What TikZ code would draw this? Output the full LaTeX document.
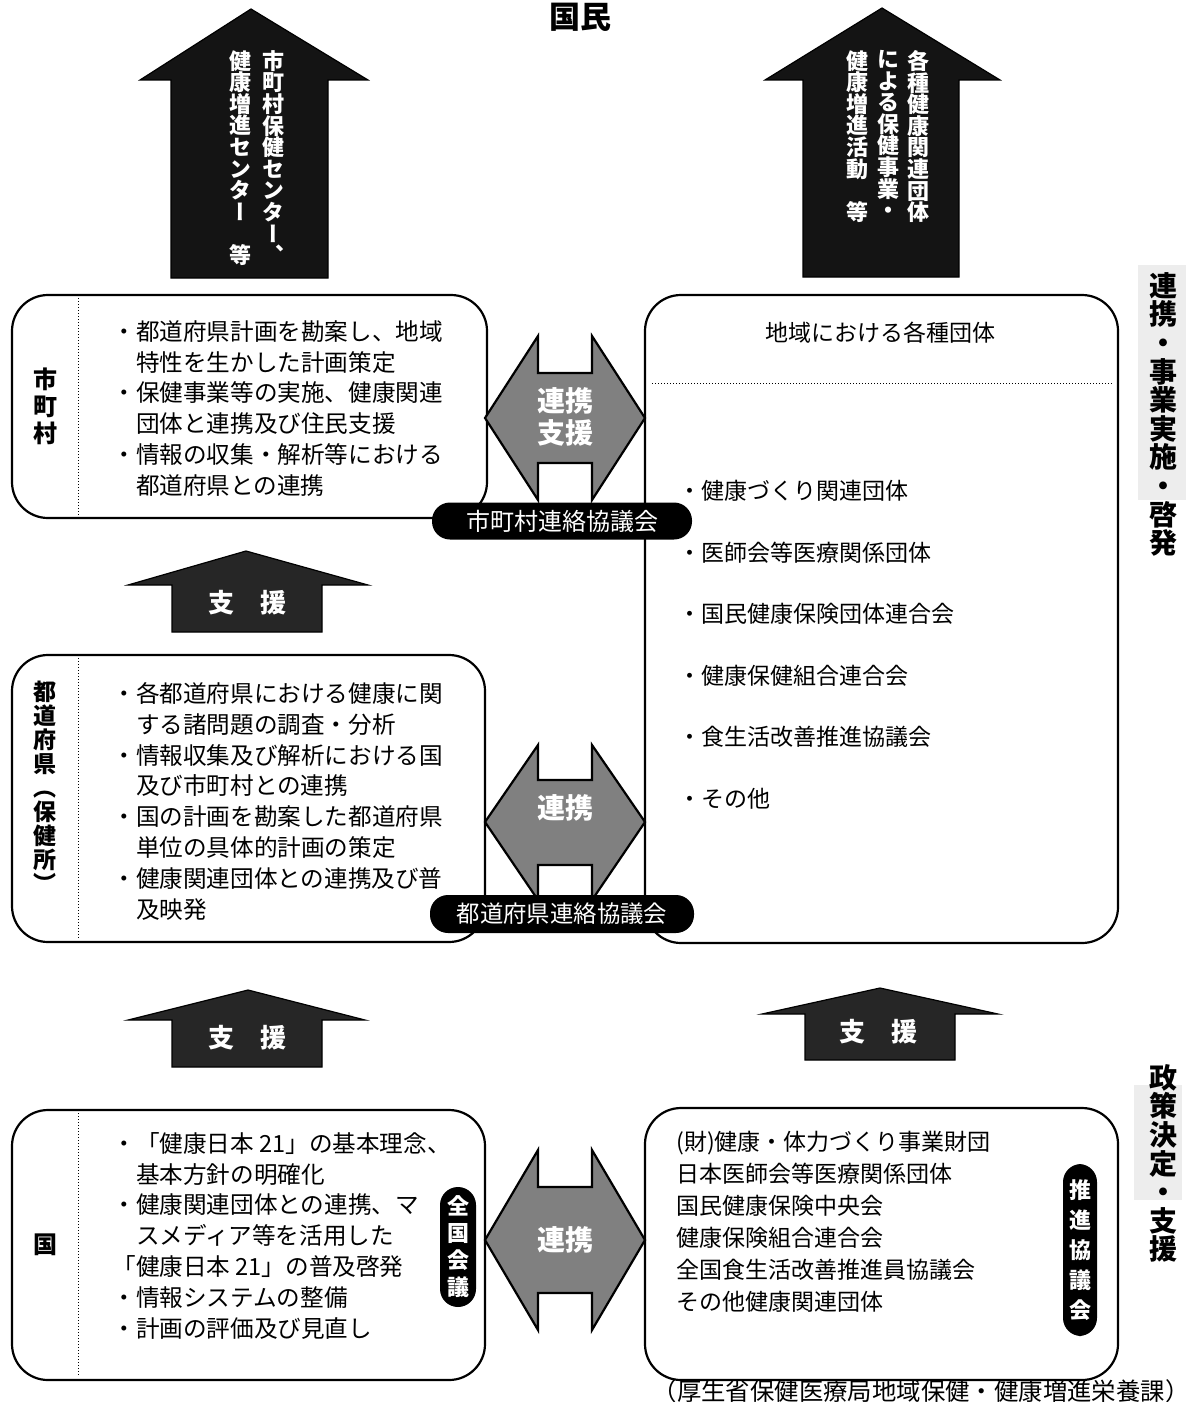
\documentclass[tikz,border=0pt]{standalone}
\usepackage{fontspec}
\setmainfont{Noto Sans CJK JP}
\newfontfamily\cjkv{Noto Sans CJK JP}[RawFeature=+vert]
\lineskiplimit=-100pt
\tikzset{
  box/.style={draw, line width=1.1pt, rounded corners=18pt},
  divider/.style={densely dotted, line width=0.5pt},
  body/.style={anchor=north west, inner sep=0, align=left, font=\fontsize{11.8}{15.4}\selectfont},
  darrow/.style={draw, line width=1.1pt, fill=black!50},
  bigarrow/.style={draw, line width=0.6pt, fill=black!92},
  smallarrow/.style={draw, line width=0.6pt, fill=black!85},
  pill/.style={fill=black, rounded corners=9pt},
  wlabel/.style={text=white, inner sep=0, font=\bfseries\fontsize{14}{16}\selectfont},
  vcol/.style={align=center, inner sep=0, anchor=north, text=white, font=\cjkv\bfseries\fontsize{11}{10.8}\selectfont},
  vlab/.style={align=center, inner sep=0, font=\cjkv\bfseries\fontsize{12}{#1}\selectfont},
  band/.style={align=center, inner sep=0, anchor=north, font=\cjkv\bfseries\fontsize{14}{14.3}\selectfont},
}
\begin{document}
\begin{tikzpicture}[x=0.5pt,y=-0.5pt]
\useasboundingbox (0,0) rectangle (1190,1402);

% title
\node[inner sep=0, font=\bfseries\fontsize{15.5}{18}\selectfont] (kokumin) at (580,17) {国民};

% big upward arrows
\draw[bigarrow] (171,278) -- (171,80) -- (140,80) -- (251,9) -- (368,80) -- (328,80) -- (328,278) -- cycle;
\node[vcol] (la1) at (273,50) {市\\町\\村\\保\\健\\セ\\ン\\タ\\ー\\、};
\node[vcol] (la2) at (240,50) {健\\康\\増\\進\\セ\\ン\\タ\\ー\\　\\等};
\draw[bigarrow] (803,277) -- (803,80) -- (765,80) -- (882,8) -- (1000,80) -- (959,80) -- (959,277) -- cycle;
\node[vcol] (ra1) at (918,50) {各\\種\\健\\康\\関\\連\\団\\体};
\node[vcol] (ra2) at (888,50) {に\\よ\\る\\保\\健\\事\\業\\・};
\node[vcol] (ra3) at (857,50) {健\\康\\増\\進\\活\\動\\　\\等};

% right side bands
\fill[gray!14] (1138,265) rectangle (1186,500);
\node[band] (band1) at (1163,272) {連\\携\\・\\事\\業\\実\\施\\・\\啓\\発};
\fill[gray!14] (1134,1085) rectangle (1182,1200);
\node[band] (band2) at (1163,1064) {政\\策\\決\\定\\・\\支\\援};

% boxes
\draw[box] (12,295) rectangle (487,518);
\draw[divider] (78,298) -- (78,515);
\node[vlab=13.5pt] (l1) at (45,406) {市\\町\\村};
\node[body] (t1) at (112,320) {・都道府県計画を勘案し、地域\\\hspace*{1em}特性を生かした計画策定\\・保健事業等の実施、健康関連\\\hspace*{1em}団体と連携及び住民支援\\・情報の収集・解析等における\\\hspace*{1em}都道府県との連携};

\draw[box] (645,295) rectangle (1118,943);
\node[inner sep=0, font=\fontsize{11.5}{14}\selectfont] (rt) at (880,333) {地域における各種団体};
\draw[divider] (652,383) -- (1112,383);
\node[body, font=\fontsize{11.5}{30.75}\selectfont] (items) at (678,480) {・健康づくり関連団体\\・医師会等医療関係団体\\・国民健康保険団体連合会\\・健康保健組合連合会\\・食生活改善推進協議会\\・その他};

\draw[box] (12,655) rectangle (485,942);
\draw[divider] (78,658) -- (78,939);
\node[vlab=12pt, font=\cjkv\bfseries\fontsize{11.5}{12}\selectfont] (l2) at (45,787) {都\\道\\府\\県\\（\\保\\健\\所\\）};
\node[body] (t2) at (112,682) {・各都道府県における健康に関\\\hspace*{1em}する諸問題の調査・分析\\・情報収集及び解析における国\\\hspace*{1em}及び市町村との連携\\・国の計画を勘案した都道府県\\\hspace*{1em}単位の具体的計画の策定\\・健康関連団体との連携及び普\\\hspace*{1em}及映発};

\draw[box] (12,1110) rectangle (485,1380);
\draw[divider] (78,1113) -- (78,1377);
\node[vlab=13pt] (l3) at (45,1245) {国};
\node[body] (t3) at (112,1132) {・「健康日本 21」の基本理念、\\\hspace*{1em}基本方針の明確化\\・健康関連団体との連携、マ\\\hspace*{1em}スメディア等を活用した\\「健康日本 21」の普及啓発\\・情報システムの整備\\・計画の評価及び見直し};

\draw[box] (645,1108) rectangle (1118,1380);
\node[body, font=\fontsize{11.5}{16}\selectfont] (t4) at (676,1131) {(財)健康・体力づくり事業財団\\日本医師会等医療関係団体\\国民健康保険中央会\\健康保険組合連合会\\全国食生活改善推進員協議会\\その他健康関連団体};

% double arrows
\draw[darrow] (485,418) -- (538,336) -- (538,373) -- (592,373) -- (592,336) -- (645,418) -- (592,500) -- (592,463) -- (538,463) -- (538,500) -- cycle;
\node[wlabel, align=center, font=\bfseries\fontsize{14}{16}\selectfont] (da1) at (565,417) {連携\\支援};
\draw[darrow] (485,822) -- (538,745) -- (538,780) -- (592,780) -- (592,745) -- (645,822) -- (592,900) -- (592,865) -- (538,865) -- (538,900) -- cycle;
\node[wlabel] (da2) at (565,808) {連携};
\draw[darrow] (485,1240) -- (538,1150) -- (538,1187) -- (592,1187) -- (592,1150) -- (645,1240) -- (592,1330) -- (592,1293) -- (538,1293) -- (538,1330) -- cycle;
\node[wlabel] (da3) at (565,1240) {連携};

% small support arrows
\draw[smallarrow] (172,632) -- (172,585) -- (128,585) -- (246,551) -- (368,585) -- (322,585) -- (322,632) -- cycle;
\node[wlabel, font=\bfseries\fontsize{13}{15}\selectfont] (s1) at (247,603) {支\hspace{1em}援};
\draw[smallarrow] (172,1067) -- (172,1020) -- (128,1020) -- (248,990) -- (365,1020) -- (322,1020) -- (322,1067) -- cycle;
\node[wlabel, font=\bfseries\fontsize{13}{15}\selectfont] (s2) at (247,1038) {支\hspace{1em}援};
\draw[smallarrow] (805,1060) -- (805,1014) -- (762,1014) -- (880,988) -- (998,1014) -- (955,1014) -- (955,1060) -- cycle;
\node[wlabel, font=\bfseries\fontsize{13}{15}\selectfont] (s3) at (878,1032) {支\hspace{1em}援};

% pills
\node[pill, minimum width=130pt, minimum height=18.5pt, inner sep=0, text=white, font=\fontsize{12}{14}\selectfont] (p1) at (562,521) {市町村連絡協議会};
\node[pill, minimum width=132pt, minimum height=19pt, inner sep=0, text=white, font=\fontsize{11.7}{14}\selectfont] (p2) at (562,914) {都道府県連絡協議会};
\node[pill, minimum width=18pt, minimum height=60pt, inner sep=0, text=white, align=center, font=\cjkv\bfseries\fontsize{11}{13.5}\selectfont] (p3) at (458,1247) {全\\国\\会\\議};
\node[pill, minimum width=17pt, minimum height=86pt, inner sep=0, text=white, align=center, font=\cjkv\bfseries\fontsize{11}{15}\selectfont] (p4) at (1080,1250) {推\\進\\協\\議\\会};

% source
\node[inner sep=0, font=\fontsize{12.2}{14}\selectfont] (src) at (921,1391) {（厚生省保健医療局地域保健・健康増進栄養課）};
\end{tikzpicture}
\end{document}
